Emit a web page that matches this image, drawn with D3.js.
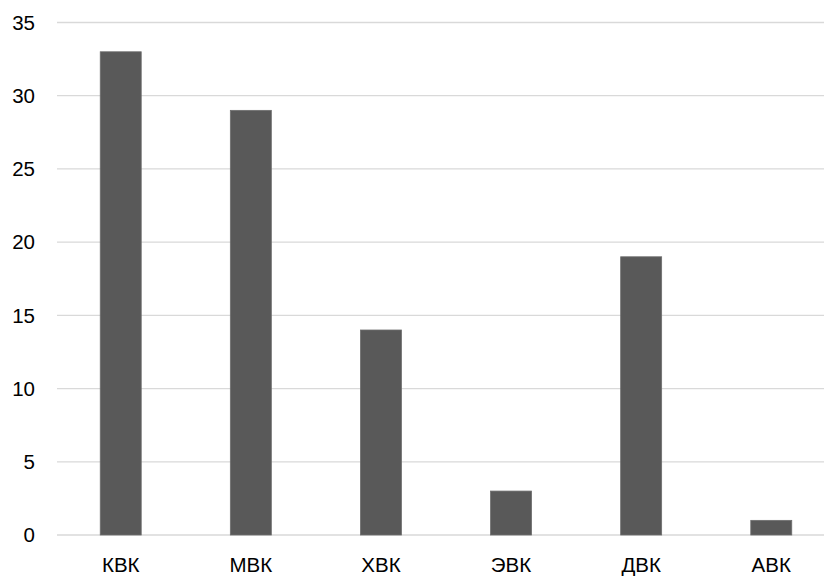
<!DOCTYPE html>
<meta charset="utf-8">
<style>
  body { margin: 0; background: #fff; }
  text { font-family: "Liberation Sans", Arial, sans-serif; fill: #000; }
</style>
<body>
<script src="https://d3js.org/d3.v7.min.js"></script>
<script>

var width = 824,
    height = 576,
    margin = {top: 22.5, right: -12, bottom: 41, left: 56};

var categories = ["КВК", "МВК", "ХВК", "ЭВК", "ДВК", "АВК"];
var values = [33, 29, 14, 3, 19, 1];
var yTicks = [0, 5, 10, 15, 20, 25, 30, 35];

var svg = d3.select("body").append("svg")
    .attr("width", width)
    .attr("height", height);

// plot runs a little past the right edge, like the original
var x = d3.scaleBand()
    .domain(categories)
    .range([margin.left, width - margin.right])
    .paddingInner(0.685)
    .paddingOuter(0.34);

var y = d3.scaleLinear()
    .domain([0, 35])
    .range([height - margin.bottom, margin.top]);

// gridlines
svg.append("g")
  .selectAll("line")
  .data(yTicks)
  .enter().append("line")
    .attr("x1", 57)
    .attr("x2", width)
    .attr("y1", function(d) { return y(d); })
    .attr("y2", function(d) { return y(d); })
    .attr("stroke", "#d9d9d9")
    .attr("stroke-width", 1.3);

// y labels
svg.append("g")
  .selectAll("text")
  .data(yTicks)
  .enter().append("text")
    .attr("x", 35)
    .attr("y", function(d) { return y(d); })
    .attr("dy", "0.35em")
    .attr("text-anchor", "end")
    .style("font-size", "20.5px")
    .text(function(d) { return d; });

// bars
svg.append("g")
  .selectAll("rect")
  .data(values)
  .enter().append("rect")
    .attr("x", function(d, i) { return x(categories[i]); })
    .attr("width", x.bandwidth())
    .attr("y", function(d) { return y(d); })
    .attr("height", function(d) { return y(0) - y(d); })
    .attr("fill", "#595959")
    .attr("stroke", "#6e6e6e")
    .attr("stroke-width", 0.8);

// x labels
svg.append("g")
  .selectAll("text")
  .data(categories)
  .enter().append("text")
    .attr("x", function(d) { return x(d) + x.bandwidth() / 2; })
    .attr("y", 572)
    .attr("text-anchor", "middle")
    .style("font-size", "20.5px")
    .text(function(d) { return d; });

</script>
